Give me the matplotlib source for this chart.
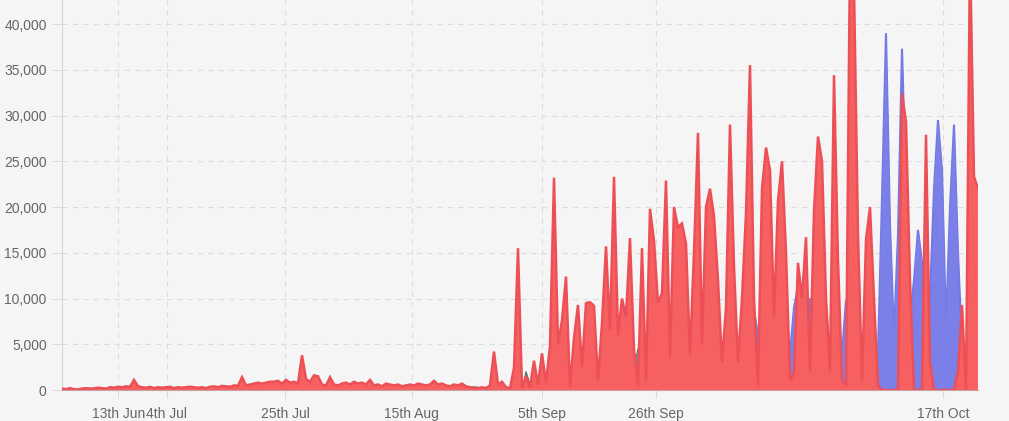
import numpy as np
import matplotlib
matplotlib.use("Agg")
import matplotlib.pyplot as plt
from matplotlib.ticker import FuncFormatter

plt.rcParams['font.family'] = ['Liberation Sans', 'DejaVu Sans']

# ---- data (one value per sample, samples evenly spaced on the category axis) ----
red = [
    150, 100, 200, 80, 60, 150, 200, 150, 180, 250, 200, 150,
    300, 250, 350, 300, 400, 350,
    1100,
    400, 300, 250, 350, 200, 300, 250, 300, 350, 200, 300, 250, 300, 350, 300,
    250, 300, 200, 350, 400, 300, 450, 400, 350, 500, 450,
    1400,
    500, 600, 700, 800, 700, 800, 900,
    900, 1000, 700, 1100, 800, 900, 700,
    3800,
    1200, 900, 1600, 1500, 600, 500, 1400, 600,
    500, 700, 800, 600, 900, 700, 800, 600,
    1100,
    500, 600, 400, 700, 600, 500, 600, 400, 500, 600, 500, 700, 600, 500, 600,
    1000,
    600, 700, 500, 400, 600, 500, 700, 400, 300, 200,
    200, 300, 200, 500, 4200, 600, 900, 300, 200,
    # 113 ->
    2400, 15500, 200, 1500, 300, 3200, 600, 4000, 800, 4800,
    23200, 5000, 7600, 12400, 300, 5700, 9300, 2500, 9500, 9600,
    9200, 1000, 7300, 15700, 6500, 23300, 6000, 10000, 8000, 16600,
    4400, 500, 15500, 1000, 19800, 16300, 9500, 10600, 22900, 3600,
    20000, 17800, 18200, 16000, 3800, 15000, 28100, 5000, 20000, 22000,
    19000, 12000, 3000, 9000, 29000, 13500, 3000, 10000, 19300, 35500,
    10000, 500, 22000, 26500, 24000, 8000, 20700, 25000, 15000, 1000,
    2000, 13900, 10000, 16700, 2000, 19500, 27700, 25000, 10000, 2000,
    34400, 14200, 1000, 500, 48000, 44000, 17000, 1000, 16400, 20000,
    10000, 500, 0, 0, 0, 0, 0, 32400, 29300, 12000,
    0, 0, 0, 27900, 3000, 0, 0, 0, 0, 0,
    0, 2000, 9300, 0, 48000, 23300, 22000,
]

blue = [0] * 59 + [600, 1500, 800] + [0] * 111 + [
    8700, 6000, 0, 0, 0, 0, 0, 0, 0, 4000,
    9000, 11300, 6000, 5000, 10000, 8000, 3000, 6000, 9000, 4000,
    2000, 3000, 4000, 9800, 4000, 2000, 4000, 4000, 3000, 2000,
    4000, 4000, 21000, 39000, 18000, 6000, 17000, 37300, 22000, 8000,
    12000, 17500, 14000, 5000, 10000, 22000, 29500, 24000, 7000, 20000,
    29000, 15000, 4700, 4700, 4700, 0, 0,
]

teal = [0] * 100 + [200, 300, 250, 350, 300, 200, 300, 250, 200, 350, 400, 300, 250] \
    + [0, 0, 0, 2000, 600] + [0] * 25 + [2500, 4500, 2000] + [0] * 84

tick_pos = [14.1, 26.2, 55.8, 87.4, 120.1, 148.4, 220.3]
tick_labels = ["13th Jun", "4th Jul", "25th Jul", "15th Aug", "5th Sep", "26th Sep", "17th Oct"]
y_ticks = [0, 5000, 10000, 15000, 20000, 25000, 30000, 35000, 40000]

# ---- figure ----
W, H = 1009, 421
bg = '#f5f5f5'
fig = plt.figure(figsize=(W / 100, H / 100), dpi=100, facecolor=bg)
ax = fig.add_axes([62 / W, 31 / H, (978 - 62) / W, 390 / H], facecolor=bg)

x = np.arange(len(red))

ax.fill_between(x, 0, teal, color='#5d7a72', lw=0, alpha=0.85, zorder=2)
ax.plot(x, teal, color='#4f6b64', lw=0.8, zorder=2)
ax.fill_between(x, 0, red, color='#f66060', lw=0, zorder=3)
ax.plot(x, red, color='#ec5056', lw=1.8, zorder=3, solid_joinstyle='miter')
ax.fill_between(x, 0, blue, where=np.array(red) < np.array(blue) * 0.3,
                color='#7b80e8', lw=0, zorder=2.5)
ax.fill_between(x, 0, blue, color='#7b80e8', lw=0, zorder=2.4)
ax.plot(x, blue, color='#7378e2', lw=1.5, zorder=2.4, solid_joinstyle='miter')

ax.set_xlim(0, len(red) - 1)
ax.set_ylim(0, 42623)

ax.set_xticks(tick_pos)
ax.set_xticklabels(tick_labels)
ax.set_yticks(y_ticks)
ax.yaxis.set_major_formatter(FuncFormatter(lambda v, p: f"{int(v):,}"))

ax.set_axisbelow(True)
ax.grid(True, color='#dcdcdc', linestyle=(0, (5, 5)), linewidth=0.75, zorder=0)

ax.tick_params(axis='both', labelsize=10, labelcolor='#666666', color='#dcdcdc', width=0.75)
ax.tick_params(axis='x', length=6, pad=6)
ax.tick_params(axis='y', length=7, pad=4)

for s in ['top', 'right']:
    ax.spines[s].set_visible(False)
ax.spines['left'].set_color('#d6d6d6')
ax.spines['left'].set_linewidth(0.8)
ax.spines['bottom'].set_color('#c8a0a0')
ax.spines['bottom'].set_linewidth(0.8)
ax.spines['bottom'].set_zorder(5)

t0 = ax.yaxis.get_major_ticks()[0]
t0.tick1line.set_color('#b5b5b5')

fig.savefig('out.png', dpi=100, facecolor=bg)
